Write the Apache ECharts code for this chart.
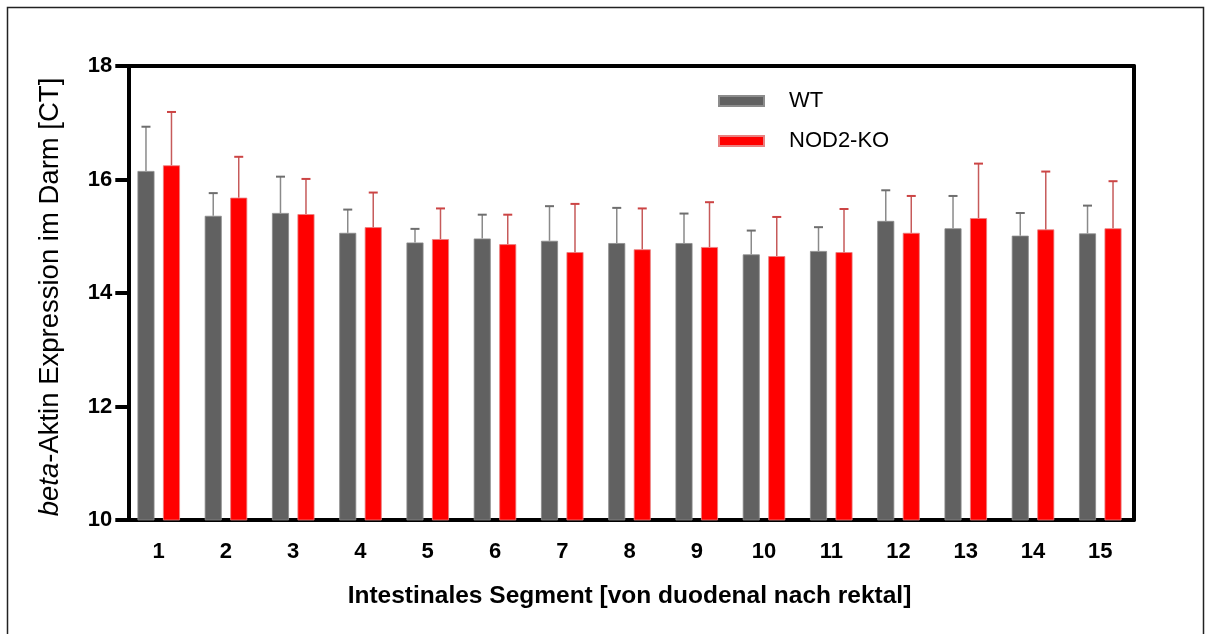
<!DOCTYPE html>
<html>
<head>
<meta charset="utf-8">
<script src="https://cdn.jsdelivr.net/npm/echarts@6/dist/echarts.min.js"></script>
<style>
  html, body { margin: 0; padding: 0; background: #fff; }
  #chart { width: 1205px; height: 634px; }
</style>
</head>
<body>
<div id="chart"></div>
<script>
// Intestinal segments, duodenal (1) to rectal (15)
const segments = ['1','2','3','4','5','6','7','8','9','10','11','12','13','14','15'];
const yTicks = [10, 12, 14, 16, 18];

// beta-actin CT means and upper error (SD) per segment
const wtMean = [16.15, 15.36, 15.41, 15.06, 14.89, 14.96, 14.92, 14.88, 14.88, 14.68, 14.74, 15.27, 15.14, 15.01, 15.05];
const wtSd   = [0.78, 0.40, 0.64, 0.41, 0.24, 0.42, 0.61, 0.62, 0.52, 0.42, 0.42, 0.54, 0.57, 0.40, 0.49];
const koMean = [16.25, 15.68, 15.39, 15.16, 14.95, 14.86, 14.72, 14.77, 14.81, 14.65, 14.72, 15.06, 15.32, 15.12, 15.14];
const koSd   = [0.94, 0.72, 0.62, 0.61, 0.54, 0.52, 0.85, 0.72, 0.79, 0.69, 0.76, 0.65, 0.96, 1.02, 0.83];

const FONT = '"Liberation Sans", Arial, Helvetica, sans-serif';
const BAR_W = 17;
const BAR_GAP = 0.5;                      // fraction of bar width
const HALF_SEP = (BAR_W + BAR_W * BAR_GAP) / 2;

const chart = echarts.init(document.getElementById('chart'), null, { renderer: 'canvas' });

function errorBars(offset, lineColor, capColor) {
  return function (params, api) {
    const i = api.value(0);
    const base = api.coord([i, api.value(1)]);
    const top = api.coord([i, api.value(2)]);
    const x = base[0] + offset;
    return {
      type: 'group',
      children: [
        { type: 'line', shape: { x1: x, y1: base[1], x2: x, y2: top[1] },
          style: { stroke: lineColor, lineWidth: 1.5 } },
        { type: 'line', shape: { x1: x - 4.5, y1: top[1], x2: x + 4.5, y2: top[1] },
          style: { stroke: capColor, lineWidth: 2 } }
      ]
    };
  };
}

const axisLineStyle = { color: '#000', width: 4 };

chart.setOption({
  animation: false,
  backgroundColor: '#fff',
  textStyle: { fontFamily: FONT },
  graphic: [{
    type: 'rect',
    shape: { x: 7.5, y: 7.5, width: 1196, height: 700 },
    style: { fill: 'none', stroke: '#222', lineWidth: 1.5 },
    silent: true
  }],
  grid: { left: 125.1, right: 71.1, top: 66, bottom: 114, containLabel: false },
  legend: {
    data: ['WT', 'NOD2-KO'],
    orient: 'vertical',
    left: 713,
    top: 85,
    icon: 'rect',
    itemWidth: 45,
    itemHeight: 10,
    itemGap: 18,
    textStyle: { fontSize: 22, color: '#000', fontFamily: FONT, padding: [0, 0, 0, 20], lineHeight: 22 }
  },
  xAxis: [{
    type: 'category',
    data: segments,
    position: 'bottom',
    axisLine: { lineStyle: axisLineStyle },
    axisTick: { alignWithLabel: true, length: 13, lineStyle: { width: 4, color: '#000' } },
    axisLabel: { fontSize: 22, fontWeight: 'bold', color: '#000', margin: 21, fontFamily: FONT },
    name: 'Intestinales Segment [von duodenal nach rektal]',
    nameLocation: 'middle',
    nameGap: 64,
    nameTextStyle: { fontSize: 24.5, fontWeight: 'bold', color: '#000', fontFamily: FONT }
  }, {
    type: 'category',
    data: segments,
    position: 'top',
    axisLine: { lineStyle: axisLineStyle },
    axisTick: { show: false },
    axisLabel: { show: false }
  }],
  yAxis: [{
    type: 'value',
    min: yTicks[0],
    max: yTicks[yTicks.length - 1],
    interval: 2,
    offset: -3.2,
    axisLine: { show: true, lineStyle: axisLineStyle },
    axisTick: { show: true, length: 13, lineStyle: { width: 4, color: '#000' } },
    axisLabel: { fontSize: 22, fontWeight: 'bold', color: '#000', margin: 16, fontFamily: FONT },
    splitLine: { show: false },
    name: '{it|beta}-Aktin Expression im Darm [CT]',
    nameLocation: 'middle',
    nameRotate: 90,
    nameGap: 64,
    nameTextStyle: {
      fontSize: 27.5, color: '#000', fontFamily: FONT, padding: [0, 8, 0, 0],
      rich: { it: { fontStyle: 'italic', fontSize: 27.5, color: '#000', fontFamily: FONT } }
    }
  }, {
    type: 'value',
    position: 'right',
    min: yTicks[0],
    max: yTicks[yTicks.length - 1],
    interval: 2,
    axisLine: { show: true, lineStyle: axisLineStyle },
    axisTick: { show: false },
    axisLabel: { show: false },
    splitLine: { show: false }
  }],
  series: [{
    name: 'WT',
    type: 'bar',
    data: wtMean,
    barWidth: BAR_W,
    barGap: (BAR_GAP * 100) + '%',
    itemStyle: { color: '#616161', borderColor: '#8c8c8c', borderWidth: 0.8 },
    clip: true,
    z: 2
  }, {
    name: 'NOD2-KO',
    type: 'bar',
    data: koMean,
    barWidth: BAR_W,
    itemStyle: { color: '#ff0000', borderColor: '#e98080', borderWidth: 0.8 },
    clip: true,
    z: 2
  }, {
    name: 'WT error',
    type: 'custom',
    data: wtMean.map((v, i) => [i, v, v + wtSd[i]]),
    renderItem: errorBars(-HALF_SEP, '#8a8a8a', '#6e6e6e'),
    z: 3
  }, {
    name: 'NOD2-KO error',
    type: 'custom',
    data: koMean.map((v, i) => [i, v, v + koSd[i]]),
    renderItem: errorBars(HALF_SEP, '#c65a5a', '#cc4444'),
    z: 3
  }]
});
</script>
</body>
</html>
